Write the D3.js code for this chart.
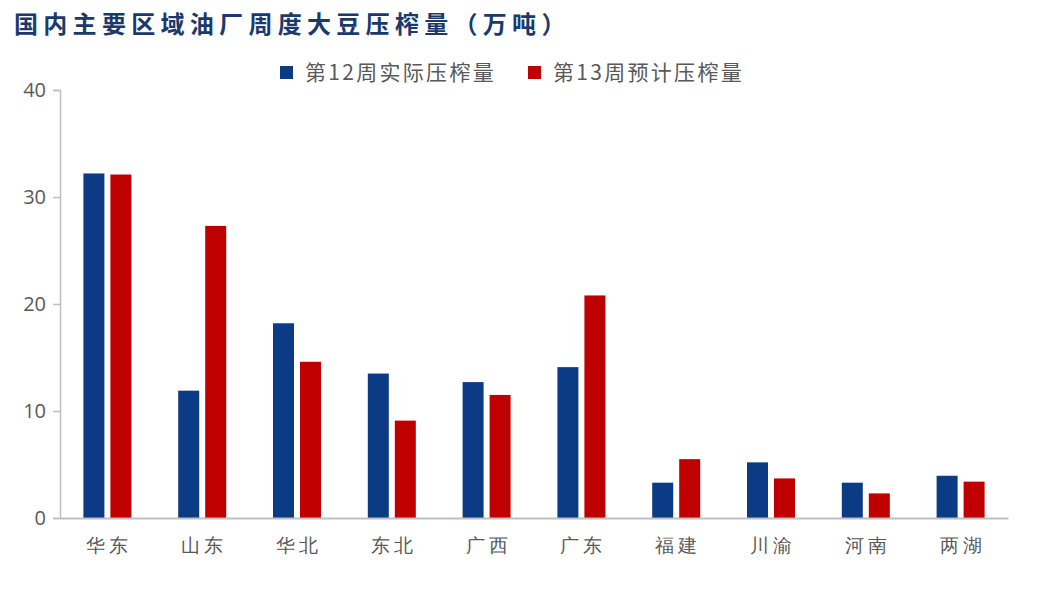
<!DOCTYPE html>
<html><head><meta charset="utf-8">
<script src="https://cdn.jsdelivr.net/npm/d3@7/dist/d3.min.js"></script>
<style>
body{margin:0;background:#fff;}
svg{display:block;font-family:"Noto Sans CJK SC","Noto Sans",sans-serif;}
</style></head>
<body><svg id="c" width="1044" height="590"></svg>
<script>
const categories = ["华东","山东","华北","东北","广西","广东","福建","川渝","河南","两湖"];
const week12 = [32.2, 11.9, 18.2, 13.5, 12.7, 14.1, 3.3, 5.2, 3.3, 3.95];
const week13 = [32.1, 27.3, 14.6, 9.1, 11.5, 20.8, 5.5, 3.7, 2.3, 3.4];
const seriesNames = ["第12周实际压榨量","第13周预计压榨量"];
const colors = ["#0c3b86","#c00000"];
const yTicks = [0,10,20,30,40];
const title = "国内主要区域油厂周度大豆压榨量（万吨）";

(function(){
const svg = d3.select("#c");
svg.append("text").attr("x",14).attr("y",33).text(title)
  .attr("font-size",24).attr("font-weight","bold").attr("fill","#1b3a6b")
  .attr("letter-spacing",5.3);

const pLeft=60, pRight=1008, pTop=90, pBottom=518;
const x = d3.scaleBand().domain(categories).range([pLeft,pRight]).paddingInner(0).paddingOuter(0);
const bw = x.bandwidth();
const x1 = d3.scaleBand().domain([0,1]).range([bw/2-24, bw/2+24]).paddingInner(6/27).paddingOuter(0);
const y = d3.scaleLinear().domain([0,40]).range([pBottom,pTop]);

const ya = svg.append("g").attr("transform",`translate(${pLeft},0)`)
  .call(d3.axisLeft(y).tickValues(yTicks).tickSize(7).tickPadding(7));
ya.select(".domain").attr("stroke","#bfbfbf").attr("stroke-width",1.5);
ya.selectAll(".tick line").attr("stroke","#bfbfbf").attr("stroke-width",1.5);
ya.selectAll(".tick text").attr("font-size",20).attr("fill","#595959")
  .attr("font-family","'Open Sans','Noto Sans',sans-serif");

const data = categories.map((c,i)=>({c, v:[week12[i],week13[i]]}));
const g = svg.append("g");
data.forEach(d=>{
  d.v.forEach((v,j)=>{
    g.append("rect").attr("x",x(d.c)+x1(j)).attr("width",x1.bandwidth())
      .attr("y",y(v)).attr("height",y(0)-y(v)).attr("fill",colors[j]);
  });
});

const xa = svg.append("g").attr("transform",`translate(0,${pBottom})`)
  .call(d3.axisBottom(x).tickSize(0).tickPadding(21));
xa.select(".domain").attr("stroke","#bfbfbf").attr("stroke-width",2);
xa.selectAll(".tick text").attr("font-size",19).attr("fill","#595959").attr("letter-spacing",4)
  .attr("dx",2);

const lg = svg.append("g");
const lx=[280,528];
seriesNames.forEach((n,i)=>{
  lg.append("rect").attr("x",lx[i]).attr("y",66).attr("width",13).attr("height",13).attr("fill",colors[i]);
  lg.append("text").attr("x",lx[i]+25).attr("y",80).text(n).attr("font-size",21)
    .attr("letter-spacing",2.3).attr("fill","#595959");
});
})();
</script></body></html>
